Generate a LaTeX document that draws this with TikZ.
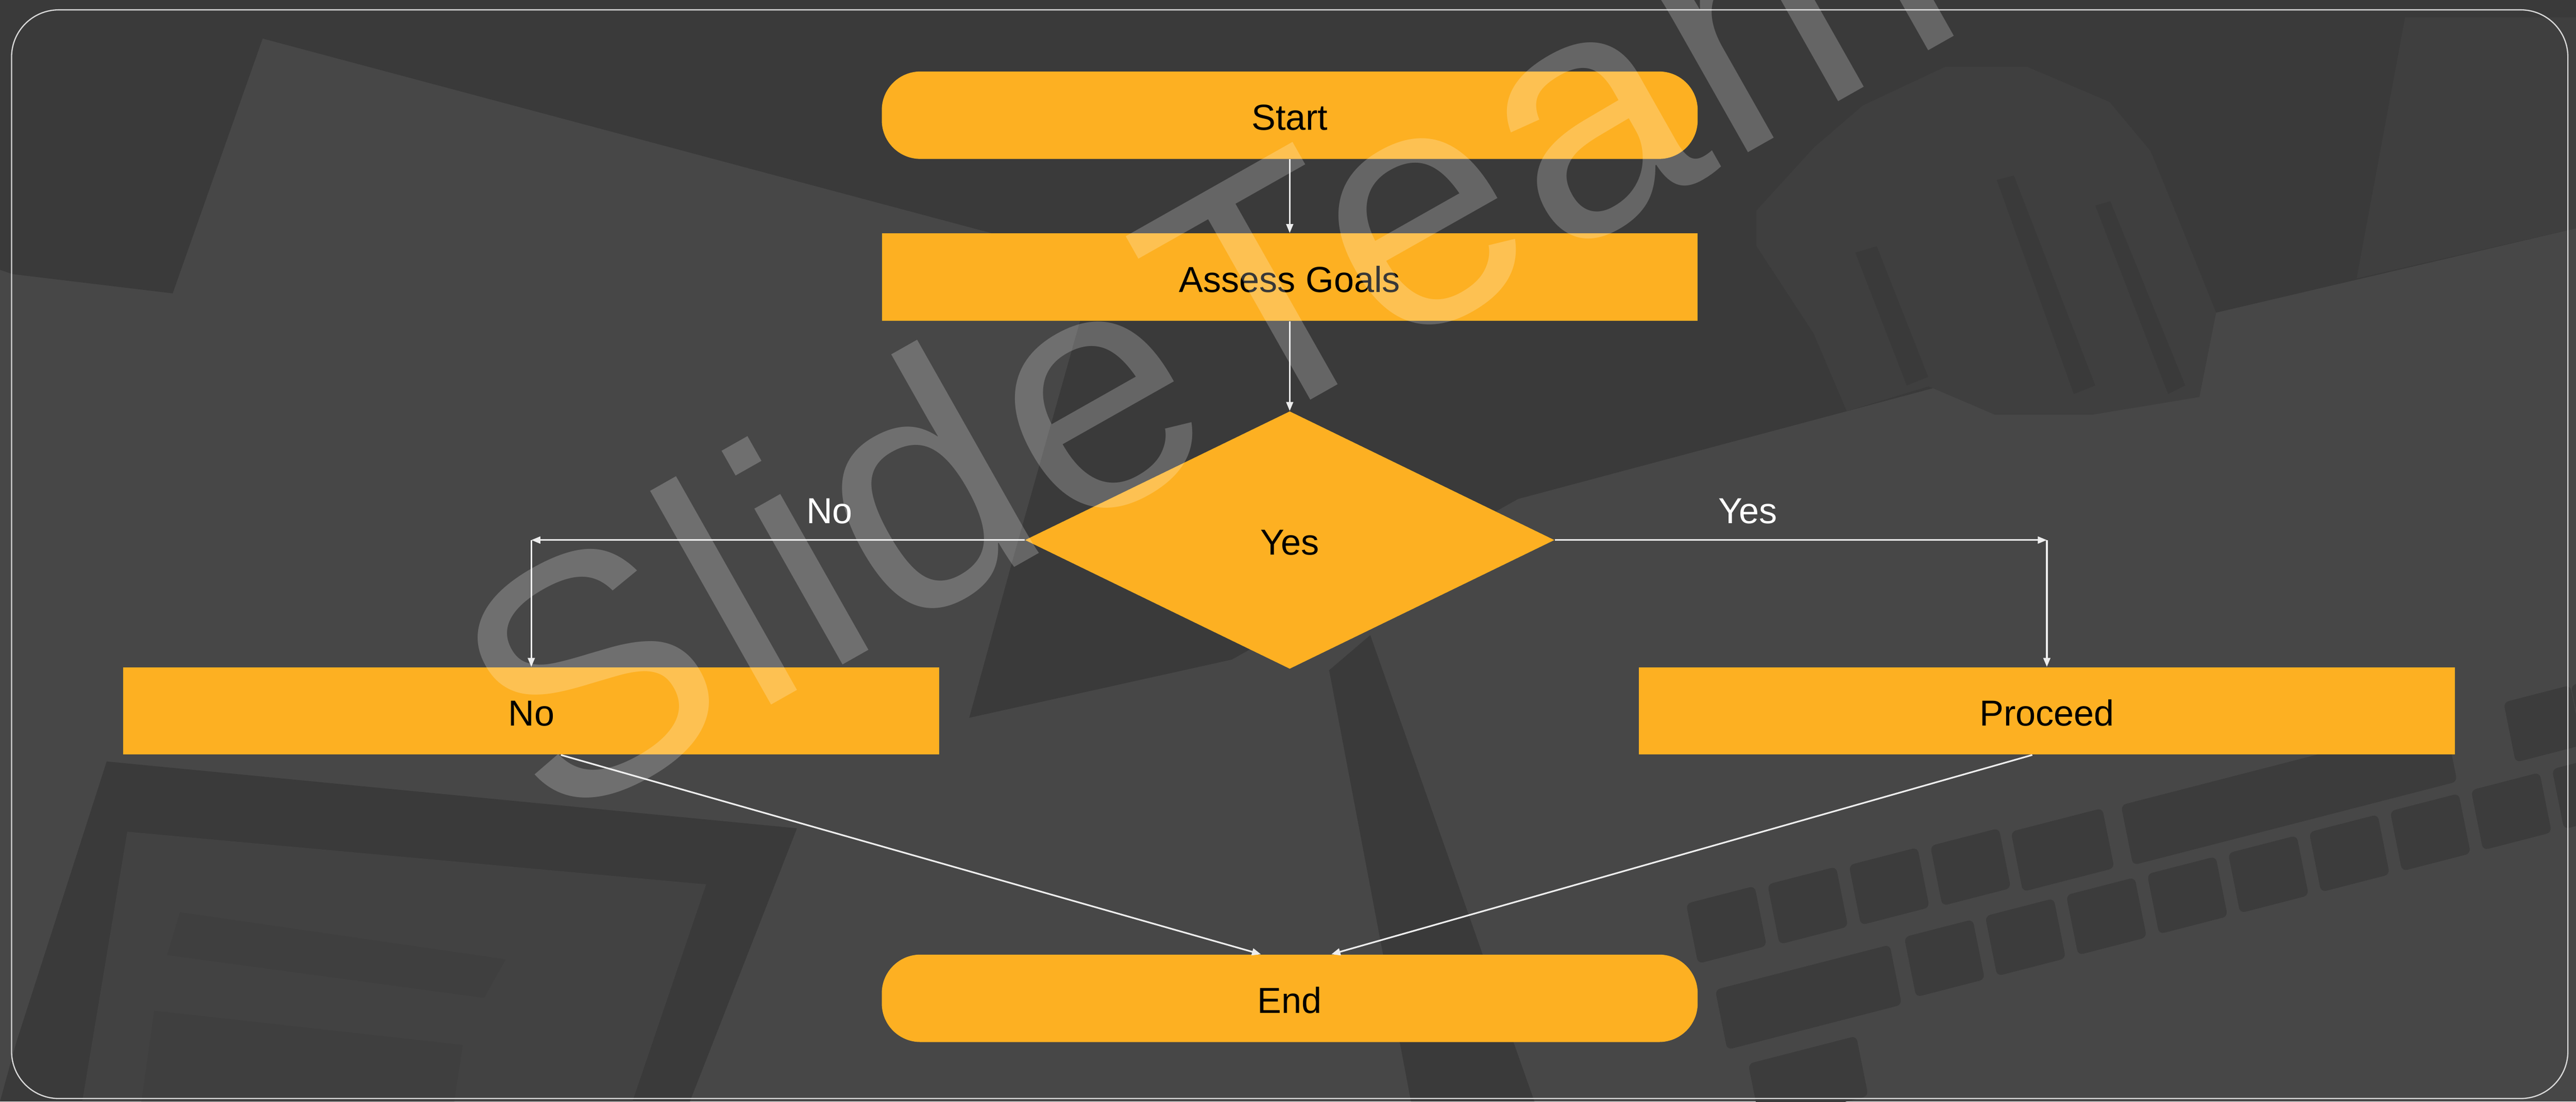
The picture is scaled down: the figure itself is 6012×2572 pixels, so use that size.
\documentclass[tikz,border=0pt]{standalone}
\usepackage{fontspec}
\setmainfont{Liberation Sans}
\newfontfamily\markfont[LetterSpace=2]{Liberation Sans}
\usetikzlibrary{arrows.meta,shapes.geometric}
\definecolor{bglight}{HTML}{474747}
\definecolor{bgdark}{HTML}{3A3A3A}
\definecolor{bgmid}{HTML}{424242}
\definecolor{bgsoft}{HTML}{3F3F3F}
\definecolor{bgkey}{HTML}{3C3C3C}
\definecolor{orangebox}{HTML}{FDB022}
\definecolor{linecol}{HTML}{EDEDED}
\newcommand{\kbdkey}[3]{\fill[bgkey,rounded corners=0.12cm] ({#1},{#2}) -- ++({#3*0.97},{-#3*0.25}) -- ++(28,140) -- ++({-#3*0.97},{#3*0.25}) -- cycle;}
\tikzset{
  boxtext/.style={font=\fontsize{24}{28}\selectfont,text=black,text height=0.7cm,text depth=0pt},
  flowbox/.style={boxtext,fill=orangebox,inner sep=0pt,minimum width=19.03cm,minimum height=2.04cm},
  pillbox/.style={flowbox,rounded corners=0.9cm},
  decision/.style={boxtext,fill=orangebox,diamond,aspect=2.055,inner sep=0pt,minimum width=12.35cm,minimum height=6.01cm},
  branchlabel/.style={font=\fontsize{24}{28}\selectfont,text=white,inner sep=0pt},
  connector/.style={draw=linecol,line width=1.1pt,-{Triangle[length=6pt,width=4.6pt]}},
  watermark/.style={font=\markfont\fontsize{225}{225}\selectfont,text=white,opacity=0.22,inner sep=0pt,anchor=base west,rotate=29.5}
}
\begin{document}
\begin{tikzpicture}[x=0.01cm,y=-0.01cm]
\useasboundingbox (0,0) rectangle (6012,2572);
\clip (0,0) rectangle (6012,2572);
% background photograph, reduced to flat shapes
\fill[bglight] (0,0) rectangle (6012,2572);
\fill[bgdark] (0,0) -- (6012,0) -- (6012,533) -- (5172,730) -- (3543,1165) -- (2875,1540) -- (2262,1676) -- (2358,1327) -- (2560,610) -- (613,90) -- (403,685) -- (29,640) -- (0,630) -- cycle;
\fill[bgsoft] (5613,41) -- (6012,41) -- (6012,533) -- (5500,650) -- cycle;
% hand
\fill[bgsoft] (4348,246) -- (4540,156) -- (4731,156) -- (4923,238) -- (5019,353) -- (5076,492) -- (5172,730) -- (5133,927) -- (4885,968) -- (4655,968) -- (4501,902) -- (4310,960) -- (4233,779) -- (4099,574) -- (4099,492) -- (4233,345) -- cycle;
\fill[bgdark] (4330,590) -- (4380,575) -- (4500,880) -- (4450,900) -- cycle;
\fill[bgdark] (4660,420) -- (4700,410) -- (4890,900) -- (4840,920) -- cycle;
\fill[bgdark] (4890,480) -- (4925,470) -- (5100,900) -- (5060,920) -- cycle;
% desk strip under the diamond
\fill[bgdark] (3102,1565) -- (3198,1483) -- (3581,2572) -- (3293,2572) -- cycle;
% tablet
\fill[bgdark] (249,1778) -- (1860,1934) -- (1610,2572) -- (0,2572) -- (38,2434) -- cycle;
\fill[bgmid] (297,1942) -- (1648,2065) -- (1476,2572) -- (192,2572) -- cycle;
\fill[bgsoft] (420,2130) -- (1180,2240) -- (1130,2330) -- (390,2230) -- cycle;
\fill[bgsoft] (360,2360) -- (1080,2440) -- (1060,2572) -- (330,2572) -- cycle;
% keyboard
\foreach \i in {0,...,3} {\kbdkey{3935+190*\i}{2110-45*\i}{165}}
\kbdkey{4693}{1942}{220}
\kbdkey{4950}{1880}{780}
\kbdkey{5843}{1640}{160}
\kbdkey{6000}{1600}{160}
\kbdkey{4003}{2311}{420}
\foreach \i in {0,...,8} {\kbdkey{4444+189*\i}{2188-49*\i}{165}}
\kbdkey{4080}{2484}{260}
% frame
\draw[draw=white!85!black,line width=0.8pt,rounded corners=1.1cm] (27,23) rectangle (5993,2565);
% flow
\node[pillbox] (start) at (3010,269) {Start};
\node[flowbox] (assess) at (3010,647) {Assess Goals};
\node[decision] (decide) at (3010,1261) {Yes};
\node[flowbox] (nobox) at (1240,1660) {No};
\node[flowbox] (proceed) at (4777,1660) {Proceed};
\node[pillbox] (finish) at (3010,2331) {End};
\coordinate (elbowleft) at (1240,1261);
\coordinate (elbowright) at (4777,1261);
\node[branchlabel] (labelno) at (1936,1193) {No};
\node[branchlabel] (labelyes) at (4079,1193) {Yes};
\draw[connector] (start) -- (assess);
\draw[connector] (assess) -- (decide);
\draw[connector] (decide.west) -- (elbowleft);
\draw[connector] (elbowleft) -- (nobox);
\draw[connector] (decide.east) -- (elbowright);
\draw[connector] (elbowright) -- (proceed);
\draw[connector] ([xshift=0.69cm]nobox.south) -- ([xshift=-0.67cm]finish.north);
\draw[connector] ([xshift=-0.34cm]proceed.south) -- ([xshift=0.97cm]finish.north);
% watermark over everything
\node[watermark] (mark) at (1280,1940) {SlideTeam};
\end{tikzpicture}
\end{document}
